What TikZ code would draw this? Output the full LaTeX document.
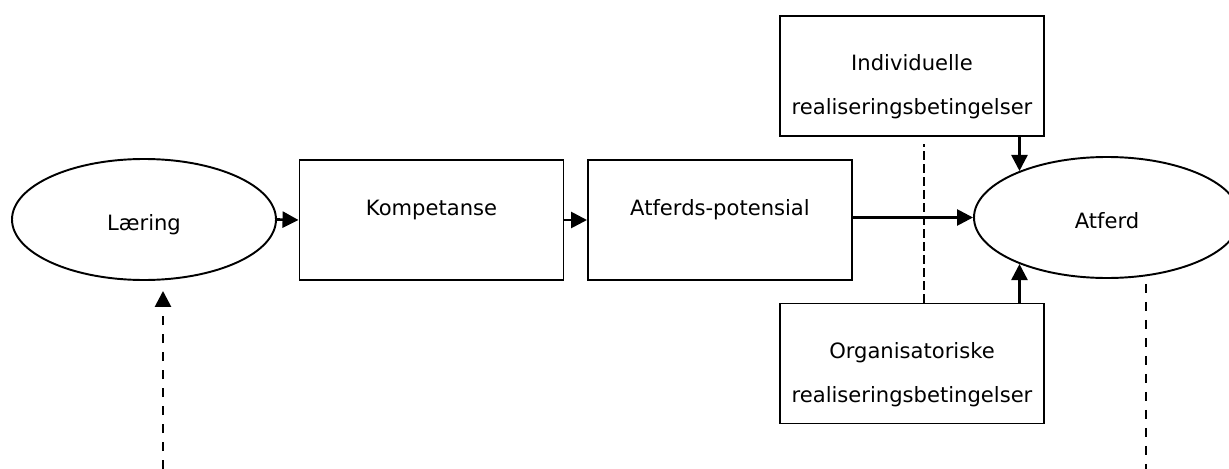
\documentclass[tikz,border=0pt]{standalone}
\usepackage{fontspec}
\setmainfont{DejaVu Sans}
\usetikzlibrary{arrows.meta,shapes.geometric}

\begin{document}
\begin{tikzpicture}[nodes={font=\fontsize{12}{25}\selectfont},
    >={Triangle[length=0.32cm,width=0.32cm]},
    boks/.style={rectangle, draw, line width=1.1pt, minimum width=5.28cm, minimum height=2.4cm},
    topp/.style={text height=0.32cm, text depth=0.52cm},
    topp2/.style={align=center, inner ysep=0pt, text height=1.9cm, text depth=0.36cm},
    sirkel/.style={ellipse, draw, line width=1.1pt, minimum width=5.28cm, minimum height=2.42cm, inner sep=0pt, text height=0.5cm, text depth=0.08cm},
    pil/.style={->, line width=1.5pt},
    stiplet/.style={line width=1.5pt, dash pattern=on 0.18cm off 0.18cm},
    tynn/.style={line width=0.9pt, dash pattern=on 0.18cm off 0.08cm}]
        \useasboundingbox (0,0) rectangle (24.58,-9.38);
        \node[sirkel] (laering) at (2.88,-4.39) {Læring};
        \node[boks, topp] (kompetanse) at (8.63,-4.40) {Kompetanse};
        \draw[pil] (laering.east) to (kompetanse.west);
        \node[boks, topp] (potensial) at (14.40,-4.40) {Atferds-potensial};
        \draw[pil] (kompetanse.east) to (potensial.west);
        \node[sirkel, minimum width=5.32cm] (atferd) at (22.14,-4.35) {Atferd};
        \draw[pil] (atferd.west -| potensial.east) to (atferd.west);
        \node[boks, topp2] (individuelle) at (18.24,-1.52) {Individuelle\\realiseringsbetingelser};
        \draw[pil] (atferd.152 |- individuelle.south) to (atferd.152);
        \node[boks, topp2] (organisatoriske) at (18.24,-7.27) {Organisatoriske\\realiseringsbetingelser};
        \draw[pil] (atferd.208 |- organisatoriske.north) to (atferd.208);
        \draw[tynn] ([xshift=0.24cm]organisatoriske.north) to ([xshift=0.24cm,yshift=-0.14cm]individuelle.south);
        \coordinate (kilde) at (3.26,-9.38);
        \draw[pil, stiplet, shorten >=0.2cm] (kilde) to (kilde |- laering.south);
        \coordinate (slutt) at (22.92,-9.38);
        \draw[stiplet, shorten <=0.1cm] (slutt |- atferd.south) to (slutt);
    \end{tikzpicture}
\end{document}
